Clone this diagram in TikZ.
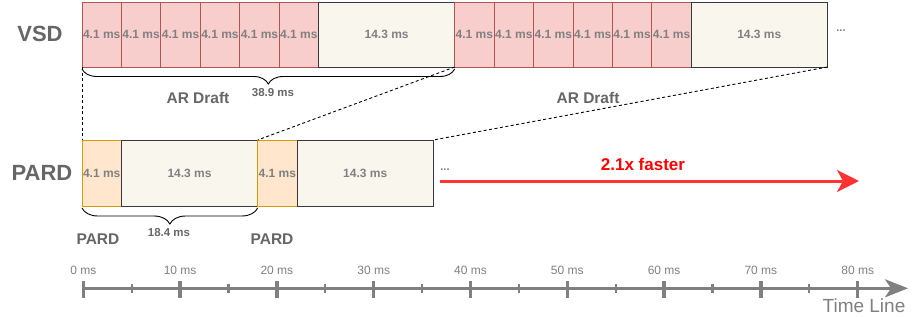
\documentclass[tikz,border=0pt]{standalone}
\usepackage{fontspec}
\setmainfont{Liberation Sans}
\usetikzlibrary{arrows.meta,decorations.pathreplacing}
\definecolor{pinkfill}{HTML}{F8CECC}
\definecolor{pinkline}{HTML}{B85450}
\definecolor{orangefill}{HTML}{FFE6CC}
\definecolor{orangeline}{HTML}{D79B00}
\definecolor{creamfill}{HTML}{F9F7ED}
\definecolor{creamline}{HTML}{36393D}
\definecolor{txtgray}{HTML}{808080}
\definecolor{labgray}{HTML}{666666}
\definecolor{axisgray}{HTML}{808080}
\definecolor{fastred}{HTML}{FF3333}
\tikzset{
  cell/.style={draw, inner sep=0pt, outer sep=0pt, anchor=north west, line width=0.9pt,
    font=\fontsize{12}{14}\selectfont\bfseries, text=txtgray},
  draftcell/.style={cell, fill=pinkfill, draw=pinkline, minimum width=39.43pt, minimum height=65pt},
  vercell/.style={cell, fill=creamfill, draw=creamline, minimum width=136.1pt, minimum height=65pt},
  pdraft/.style={cell, fill=orangefill, draw=orangeline, minimum width=39.4pt, minimum height=66pt},
  pver/.style={cell, fill=creamfill, draw=creamline, minimum width=136.3pt, minimum height=66pt},
  rowlabel/.style={font=\fontsize{22}{24}\selectfont\bfseries, text=labgray},
  phase/.style={font=\fontsize{15.5}{17}\selectfont\bfseries, text=labgray},
  span/.style={font=\fontsize{11.5}{13}\selectfont\bfseries, text=labgray},
  dots/.style={font=\fontsize{11}{12}\selectfont\bfseries, text=txtgray},
  bracket/.style={decorate, decoration={brace, mirror, amplitude=15pt, raise=2pt}, line width=0.9pt, black},
  link/.style={dashed, dash pattern=on 3pt off 2.5pt, line width=0.9pt, black},
  ticklab/.style={font=\fontsize{12}{13}\selectfont, text=axisgray},
}
\begin{document}
\begin{tikzpicture}[x=1pt,y=-1pt]
\useasboundingbox (0,0) rectangle (913,316);

% row labels
\node[rowlabel] (lvsd) at (40,34) {VSD};
\node[rowlabel] (lpard) at (42,173) {PARD};

% VSD row
\node[draftcell] (v1) at (82,2) {4.1 ms};
\node[draftcell] (v2) at (v1.north east) {4.1 ms};
\node[draftcell] (v3) at (v2.north east) {4.1 ms};
\node[draftcell] (v4) at (v3.north east) {4.1 ms};
\node[draftcell] (v5) at (v4.north east) {4.1 ms};
\node[draftcell] (v6) at (v5.north east) {4.1 ms};
\node[vercell] (v7) at (v6.north east) {14.3 ms};
\node[draftcell] (v8) at (v7.north east) {4.1 ms};
\node[draftcell] (v9) at (v8.north east) {4.1 ms};
\node[draftcell] (v10) at (v9.north east) {4.1 ms};
\node[draftcell] (v11) at (v10.north east) {4.1 ms};
\node[draftcell] (v12) at (v11.north east) {4.1 ms};
\node[draftcell] (v13) at (v12.north east) {4.1 ms};
\node[vercell] (v14) at (v13.north east) {14.3 ms};
\node[dots] (vdots) at (841,31) {...};

% PARD row
\node[pdraft] (p1) at (82,140) {4.1 ms};
\node[pver] (p2) at (p1.north east) {14.3 ms};
\node[pdraft] (p3) at (p2.north east) {4.1 ms};
\node[pver] (p4) at (p3.north east) {14.3 ms};
\node[dots] (pdots) at (445,170) {...};

% dashed links
\draw[link] (v1.south west) -- (p1.north west);
\draw[link] (v7.south east) -- (p2.north east);
\draw[link] (v14.south east) -- (p4.north east);

% braces
\draw[bracket] (v1.south west) -- (v7.south east);
\node[span] (t389) at (273,93) {38.9 ms};
\node[phase] (ar1) at (198,98) {AR Draft};
\node[phase] (ar2) at (588,98) {AR Draft};

\draw[bracket, decoration={amplitude=16pt}] (p1.south west) -- (p2.south east);
\node[span] (t184) at (169,233) {18.4 ms};
\node[phase] (pd1) at (98,239) {PARD};
\node[phase] (pd2) at (272,239) {PARD};

% speedup arrow
\coordinate (ra) at (440,181);
\coordinate (rb) at (859,181);
\draw[fastred, line width=3pt, -{Stealth[length=22pt, width=22pt, inset=6pt]}] (ra) -- (rb);
\node[font=\fontsize{17}{19}\selectfont\bfseries, text=red] (fast) at (643,164) {2.1x faster};

% time line
\coordinate (ta) at (83.3,288.3);
\coordinate (tb) at (908,288.3);
\draw[axisgray, line width=2.7pt, -{Stealth[length=23pt, width=18pt, inset=6pt]}] (ta) -- (tb);
\foreach \k in {0,...,8} {
  \pgfmathsetmacro{\xx}{83.3+96.8*\k}
  \draw[axisgray, line width=3.3pt] (\xx,281) -- (\xx,298);
  \node[ticklab] (tl\k) at (\xx,270.5) {\the\numexpr\k*10\relax\ ms};
}
\foreach \k in {0,...,7} {
  \pgfmathsetmacro{\xx}{83.3+96.8*\k+48.4}
  \draw[axisgray, line width=2.2pt] (\xx,283.5) -- (\xx,293);
}
\node[font=\fontsize{19}{21}\selectfont, text=axisgray] (tline) at (864,306) {Time Line};
\end{tikzpicture}
\end{document}
